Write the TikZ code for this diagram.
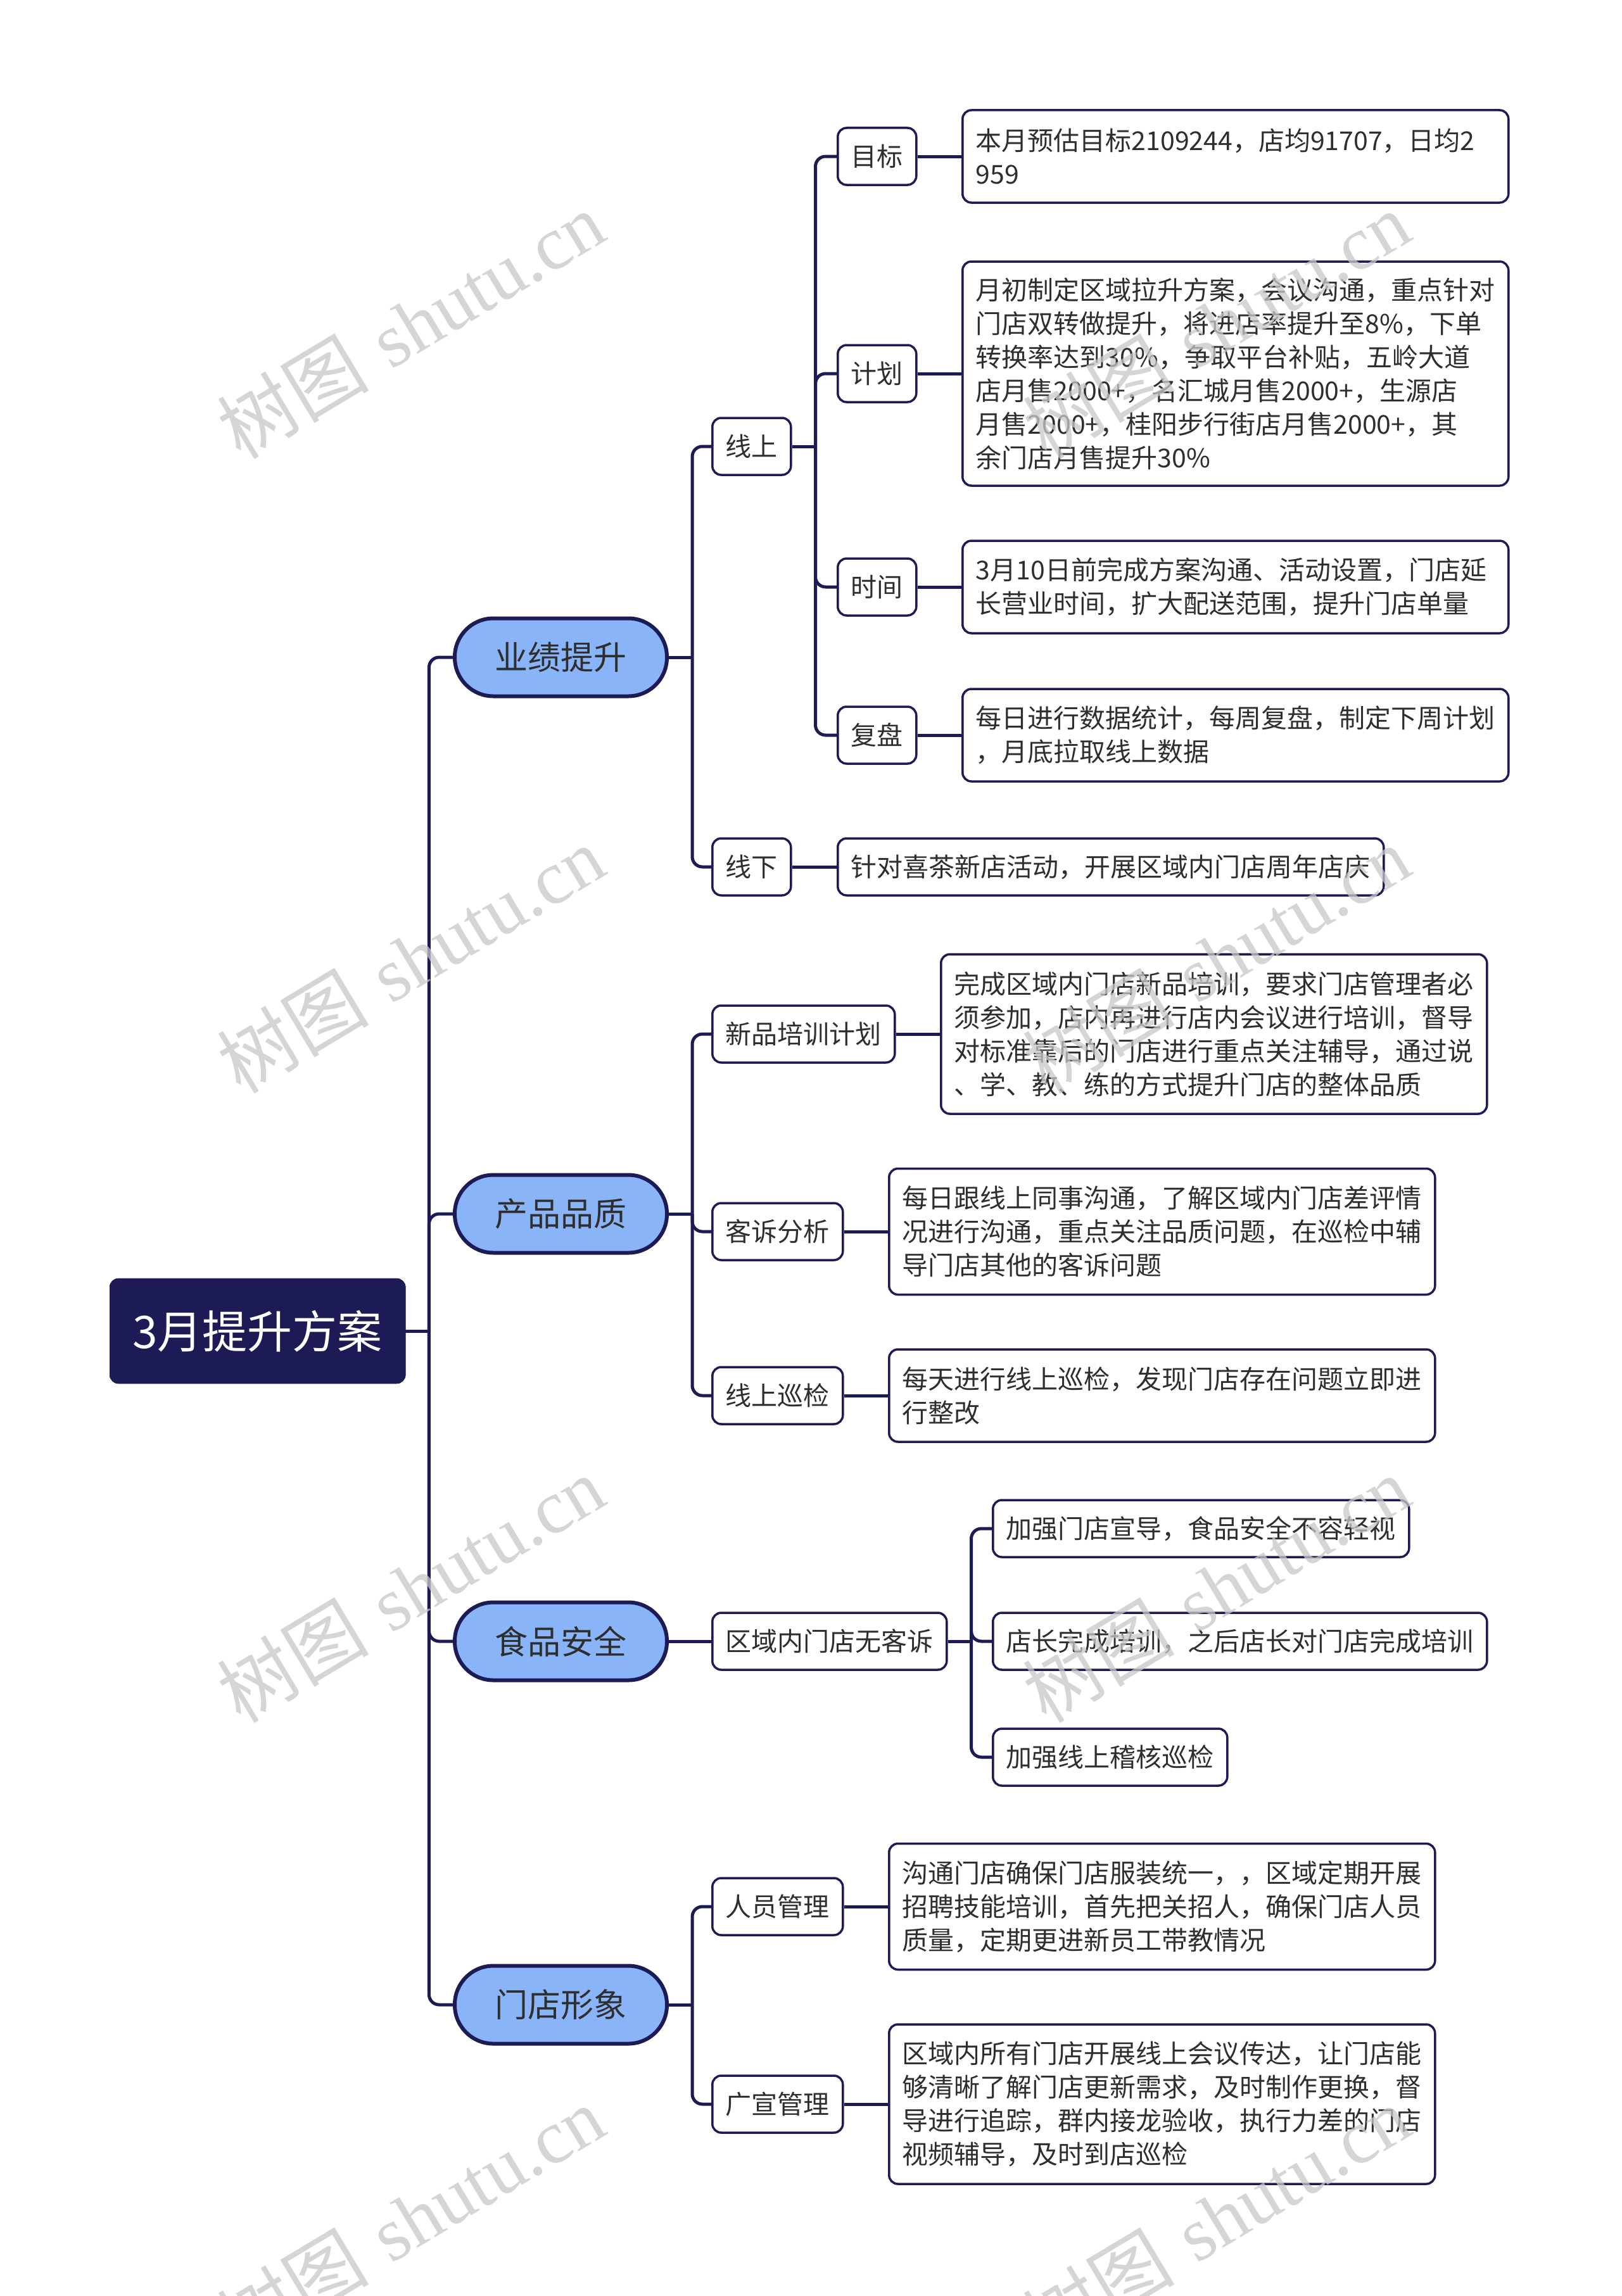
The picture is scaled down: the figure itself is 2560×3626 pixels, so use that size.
\documentclass[tikz,border=0pt]{standalone}
\usepackage{fontspec}
\newfontfamily\cjk{Noto Sans CJK SC}
\newfontfamily\wmlat{Liberation Serif}
\definecolor{navy}{HTML}{1C1B55}
\definecolor{pillblue}{HTML}{8AB4F8}
\definecolor{txt}{HTML}{2E2E2E}
\definecolor{wm}{HTML}{C8C8C8}
\begin{document}
\begin{tikzpicture}[x=1pt,y=-1pt,
  conn/.style={draw=navy, line width=5, rounded corners=16},
  rootbox/.style={fill=navy, draw=navy, rounded corners=14, text=white, font=\cjk\fontsize{71}{80}\selectfont, minimum width=467, minimum height=166, inner sep=0},
  pill/.style={fill=pillblue, draw=navy, line width=6, rounded corners=61, minimum width=335, minimum height=123, inner sep=0, font=\cjk\fontsize{52}{60}\selectfont, text=txt},
  subbox/.style={fill=white, draw=navy, line width=3.5, rounded corners=14, inner xsep=21, inner ysep=0, minimum height=90, text height=36, text depth=6, font=\cjk\fontsize{41}{53}\selectfont, text=txt},
  leafbox/.style={fill=white, draw=navy, line width=3.5, rounded corners=14, inner xsep=21, inner ysep=0, text width=820, align=left, font=\cjk\fontsize{41}{53}\selectfont, text=txt},
  wmark/.style={rotate=31, text=wm, text opacity=0.75, font=\fontsize{120}{130}\selectfont}
]
\useasboundingbox[fill=white] (0,0) rectangle (2560,3626);

% root
\node[rootbox, anchor=west] (root) at (173,2102) {3月提升方案};

% level 1
\node[pill, anchor=west] (p1) at (715,1038) {业绩提升};
\node[pill, anchor=west] (p2) at (715,1917) {产品品质};
\node[pill, anchor=west] (p3) at (715,2592) {食品安全};
\node[pill, anchor=west] (p4) at (715,3166) {门店形象};

% level 2
\node[subbox, anchor=west] (xs) at (1123,705) {线上};
\node[subbox, anchor=west] (xx) at (1123,1369) {线下};
\node[subbox, anchor=west] (xp) at (1123,1633) {新品培训计划};
\node[subbox, anchor=west] (ks) at (1123,1945) {客诉分析};
\node[subbox, anchor=west] (xj) at (1123,2204) {线上巡检};
\node[subbox, anchor=west] (qy) at (1123,2592) {区域内门店无客诉};
\node[subbox, anchor=west] (ry) at (1123,3011) {人员管理};
\node[subbox, anchor=west] (gx) at (1123,3323) {广宣管理};

% level 3 under 线上
\node[subbox, anchor=west] (mb) at (1321,247) {目标};
\node[subbox, anchor=west] (jh) at (1321,590) {计划};
\node[subbox, anchor=west] (sj) at (1321,927) {时间};
\node[subbox, anchor=west] (fp) at (1321,1161) {复盘};

% leaves
\node[leafbox, anchor=west, minimum height=146] (lmb) at (1518,247) {本月预估目标2109244，店均91707，日均2\\959};
\node[leafbox, anchor=west, minimum height=354] (ljh) at (1518,590) {月初制定区域拉升方案，会议沟通，重点针对\\门店双转做提升，将进店率提升至8\%，下单\\转换率达到30\%，争取平台补贴，五岭大道\\店月售2000+，名汇城月售2000+，生源店\\月售2000+，桂阳步行街店月售2000+，其\\余门店月售提升30\%};
\node[leafbox, anchor=west, minimum height=146] (lsj) at (1518,927) {3月10日前完成方案沟通、活动设置，门店延\\长营业时间，扩大配送范围，提升门店单量};
\node[leafbox, anchor=west, minimum height=146] (lfp) at (1518,1161) {每日进行数据统计，每周复盘，制定下周计划\\，月底拉取线上数据};
\node[subbox, anchor=west] (lxx) at (1321,1369) {针对喜茶新店活动，开展区域内门店周年店庆};
\node[leafbox, anchor=west, minimum height=252] (lxp) at (1484,1633) {完成区域内门店新品培训，要求门店管理者必\\须参加，店内再进行店内会议进行培训，督导\\对标准靠后的门店进行重点关注辅导，通过说\\、学、教、练的方式提升门店的整体品质};
\node[leafbox, anchor=west, minimum height=199] (lks) at (1402,1945) {每日跟线上同事沟通，了解区域内门店差评情\\况进行沟通，重点关注品质问题，在巡检中辅\\导门店其他的客诉问题};
\node[leafbox, anchor=west, minimum height=146] (lxj) at (1402,2204) {每天进行线上巡检，发现门店存在问题立即进\\行整改};
\node[subbox, anchor=west] (lq1) at (1566,2414) {加强门店宣导，食品安全不容轻视};
\node[subbox, anchor=west] (lq2) at (1566,2592) {店长完成培训，之后店长对门店完成培训};
\node[subbox, anchor=west] (lq3) at (1566,2775) {加强线上稽核巡检};
\node[leafbox, anchor=west, minimum height=199] (lry) at (1402,3011) {沟通门店确保门店服装统一，，区域定期开展\\招聘技能培训，首先把关招人，确保门店人员\\质量，定期更进新员工带教情况};
\node[leafbox, anchor=west, minimum height=252] (lgx) at (1402,3323) {区域内所有门店开展线上会议传达，让门店能\\够清晰了解门店更新需求，及时制作更换，督\\导进行追踪，群内接龙验收，执行力差的门店\\视频辅导，及时到店巡检};

% connectors: root to level 1
\draw[conn] (root.east) -- ++(37,0) coordinate (v0);
\foreach \n in {p1,p2,p3,p4} \draw[conn] (v0) |- (\n.west);

% 业绩提升
\draw[conn] (p1.east) -- ++(37,0) coordinate (v1);
\foreach \n in {xs,xx} \draw[conn] (v1) |- (\n.west);
\draw[conn] (xs.east) -- ++(37,0) coordinate (v2);
\foreach \n in {mb,jh,sj,fp} \draw[conn] (v2) |- (\n.west);
\draw[conn] (mb.east) -- (lmb.west);
\draw[conn] (jh.east) -- (ljh.west);
\draw[conn] (sj.east) -- (lsj.west);
\draw[conn] (fp.east) -- (lfp.west);
\draw[conn] (xx.east) -- (lxx.west);

% 产品品质
\draw[conn] (p2.east) -- ++(37,0) coordinate (v3);
\foreach \n in {xp,ks,xj} \draw[conn] (v3) |- (\n.west);
\draw[conn] (xp.east) -- (lxp.west);
\draw[conn] (ks.east) -- (lks.west);
\draw[conn] (xj.east) -- (lxj.west);

% 食品安全
\draw[conn] (p3.east) -- (qy.west);
\draw[conn] (qy.east) -- ++(37,0) coordinate (v4);
\foreach \n in {lq1,lq2,lq3} \draw[conn] (v4) |- (\n.west);

% 门店形象
\draw[conn] (p4.east) -- ++(37,0) coordinate (v5);
\foreach \n in {ry,gx} \draw[conn] (v5) |- (\n.west);
\draw[conn] (ry.east) -- (lry.west);
\draw[conn] (gx.east) -- (lgx.west);

% redraw nodes on top of connectors
\node[rootbox, anchor=west] at (173,2102) {3月提升方案};

% watermarks
\foreach \wx/\wy [count=\i] in {648/513,648/1515,648/2509,648/3504,1920/513,1920/1515,1920/2509,1920/3504}
  \node[wmark] (wm\i) at (\wx,\wy) {{\cjk 树图} {\wmlat shutu.cn}};
\end{tikzpicture}
\end{document}
